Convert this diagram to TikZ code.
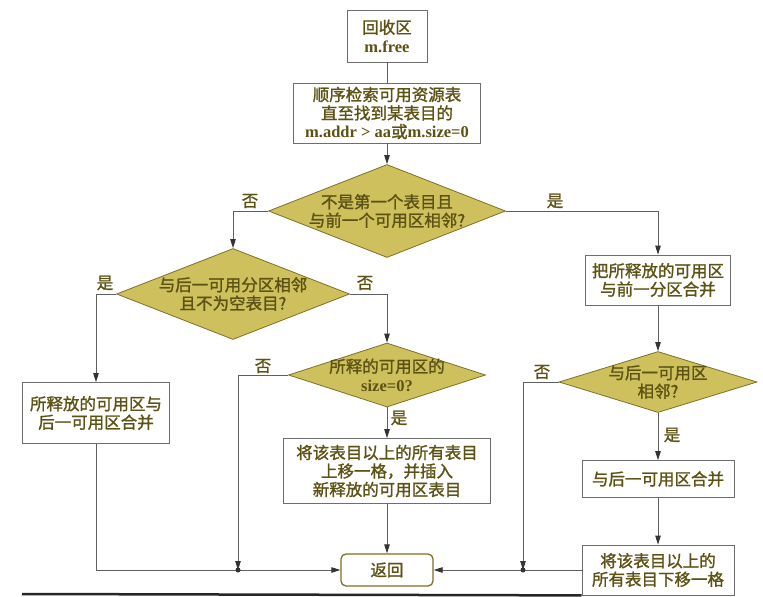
\documentclass[tikz,border=0pt]{standalone}
\usepackage{fontspec}
\setmainfont{Liberation Serif}
\newfontfamily\cjk{Noto Sans CJK SC}[FakeBold=1.3]
\newcommand\lat[1]{{\rmfamily\bfseries #1}}
\usetikzlibrary{shapes.geometric,arrows.meta}
\definecolor{olivetext}{RGB}{92,82,20}
\definecolor{diafill}{RGB}{206,192,92}
\definecolor{diaedge}{RGB}{125,112,40}
\definecolor{boxedge}{RGB}{110,110,110}
\definecolor{linecol}{RGB}{95,95,95}
\begin{document}
\begin{tikzpicture}[x=1pt,y=-1pt,
  txt/.style={font=\cjk\fontsize{16.5}{18.5}\selectfont, text=olivetext, align=center},
  box/.style={txt, draw=boxedge, fill=white, line width=0.8pt, inner sep=0pt},
  cond/.style={diamond, draw=diaedge, fill=diafill, line width=0.8pt, inner sep=0pt},
  lbl/.style={txt, inner sep=0pt},
  lin/.style={draw=linecol, line width=0.8pt},
  arr/.style={lin, -{Triangle[length=9pt,width=5.5pt,color=black!80]}}]
  \useasboundingbox (0,0) rectangle (763,597);

  \node[box, minimum width=80, minimum height=52] (free) at (387,36) {回收区\\\lat{m.free}};
  \node[box, minimum width=187, minimum height=60] (search) at (387,113)
    {顺序检索可用资源表\\直至找到某表目的\\\lat{m.addr > aa}或\lat{m.size=0}};
  \node[cond, minimum width=237, minimum height=93] (adj1) at (387,211) {};
  \node[txt] (adj1t) at (adj1) {不是第一个表目且\\与前一个可用区相邻?};
  \node[cond, minimum width=233, minimum height=91] (adj2) at (233,294) {};
  \node[txt] (adj2t) at (adj2) {与后一可用分区相邻\\且不为空表目?};
  \node[cond, minimum width=197, minimum height=64] (zero) at (387,375) {};
  \node[txt] (zerot) at (zero) {所释的可用区的\\\lat{size=0?}};
  \node[cond, minimum width=198, minimum height=61] (adj3) at (658,382) {};
  \node[txt] (adj3t) at (adj3) {与后一可用区\\相邻?};

  \node[box, minimum width=147, minimum height=61] (mergel) at (96,413) {所释放的可用区与\\后一可用区合并};
  \node[box, minimum width=207, minimum height=65] (insert) at (387,471)
    {将该表目以上的所有表目\\上移一格，并插入\\新释放的可用区表目};
  \node[box, draw=diaedge, line width=1.3pt, rounded corners=5pt, minimum width=92, minimum height=32] (ret) at (387,570) {返回};
  \node[box, minimum width=145, minimum height=50] (mergef) at (658,280) {把所释放的可用区\\与前一分区合并};
  \node[box, minimum width=152, minimum height=37] (mergeb) at (658,479) {与后一可用区合并};
  \node[box, minimum width=152, minimum height=50] (shift) at (658,570) {将该表目以上的\\所有表目下移一格};

  \coordinate (j1) at (238,570);
  \coordinate (j2) at (523,570);

  \node[lbl] (no1) at (250,201) {否};
  \node[lbl] (yes1) at (555,201) {是};
  \node[lbl] (yes2) at (105,283) {是};
  \node[lbl] (no2) at (365,283) {否};
  \node[lbl] (no3) at (263,366) {否};
  \node[lbl] (yes3) at (399,418) {是};
  \node[lbl] (no4) at (542,372) {否};
  \node[lbl] (yes4) at (672,435) {是};

  \draw[lin] (free) -- (search);
  \draw[arr] (search) -- (adj1);
  \draw[arr] (adj1.west) -| (adj2.north);
  \draw[arr] (adj1.east) -| (mergef.north);
  \draw[arr] (adj2.west) -| (mergel.north);
  \draw[arr] (adj2.east) -| (zero.north);
  \draw[arr] (zero.west) -| (j1);
  \draw[arr] (zero) -- (insert);
  \draw[arr] (insert) -- (ret);
  \draw[arr] (mergel.south) |- (ret.west);
  \draw[arr] (mergef) -- (adj3);
  \draw[arr] (adj3.west) -| (j2);
  \draw[arr] (adj3) -- (mergeb);
  \draw[arr] (mergeb) -- (shift);
  \draw[arr] (shift) -- (ret);
  \fill[black!80] (j1) circle (2.5) (j2) circle (2.5);

  \draw[line width=2.5pt, black!85] (22,594) -- (shift.south west);
\end{tikzpicture}
\end{document}
